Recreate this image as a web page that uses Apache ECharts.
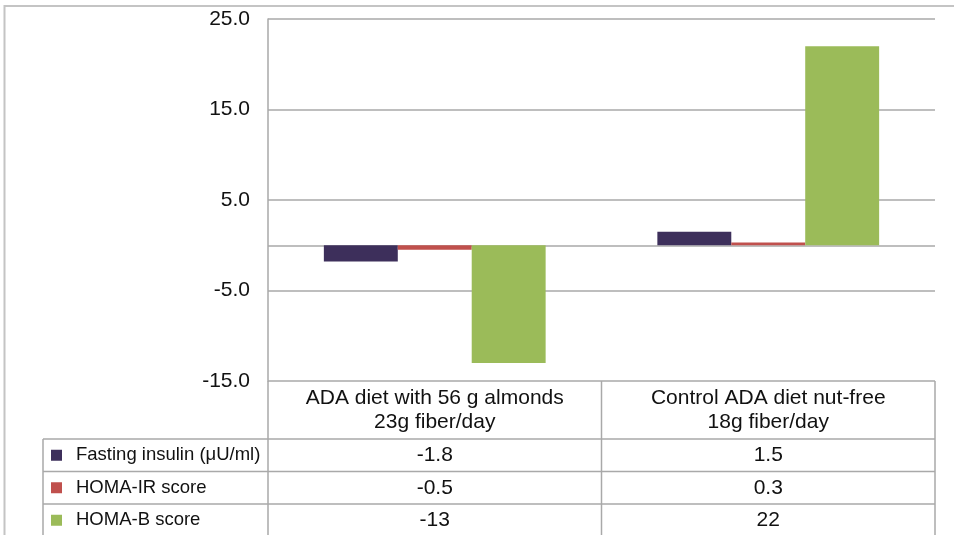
<!DOCTYPE html>
<html>
<head>
<meta charset="utf-8">
<script src="https://cdn.jsdelivr.net/npm/echarts@6/dist/echarts.min.js"></script>
<style>
  html, body { margin: 0; padding: 0; background: #fff; }
  #chart { width: 954px; height: 535px; }
</style>
</head>
<body>
<div id="chart"></div>
<script>
// Diet groups (x categories) and the three measured changes
const categories = ['ADA diet with 56 g almonds\n23g fiber/day', 'Control ADA diet nut-free\n18g fiber/day'];
const seriesNames = ['Fasting insulin (\u03bcU/ml)', 'HOMA-IR score', 'HOMA-B score'];
const fastingInsulin = [-1.8, 1.5];
const homaIR = [-0.5, 0.3];
const homaB = [-13, 22];
const seriesColors = ['#3d2f5b', '#c0504d', '#9bbb59'];

// Value axis range
const yMin = -15;
const yMax = 25;
const yStep = 10;

// Layout
const GRID = { left: 268, right: 19, top: 19, bottom: 154 };
const W = 954, H = 535;
const PLOT_BOTTOM = H - GRID.bottom;           // top edge of the data table
const PLOT_RIGHT = W - GRID.right;
const HEADER_BOTTOM = 439;
const ROW_H = 32.5;
const TABLE_LEFT = 43;
const LINE_COLOR = '#a9a9a9';
const TEXT_COLOR = '#111111';
const FONT = 'Liberation Sans, Arial, sans-serif';

const seriesValues = [fastingInsulin, homaIR, homaB];

const chart = echarts.init(document.getElementById('chart'), null, { renderer: 'canvas' });

const series = seriesNames.map((name, i) => {
  const s = {
    name: name,
    type: 'bar',
    data: seriesValues[i],
    barGap: '0%',
    barCategoryGap: '33.5%',
    itemStyle: { color: seriesColors[i] },
    silent: true
  };
  if (i === 0) {
    // zero baseline across the plot
    s.markLine = {
      silent: true,
      symbol: ['none', 'none'],
      label: { show: false },
      lineStyle: { color: LINE_COLOR, type: 'solid', width: 1.5 },
      data: [{ yAxis: 0 }],
      z: 1
    };
  }
  return s;
});

chart.setOption({
  animation: false,
  backgroundColor: '#ffffff',
  grid: Object.assign({ containLabel: false, outerBoundsMode: 'none' }, GRID),
  xAxis: {
    type: 'category',
    data: categories,
    position: 'bottom',
    axisLine: { show: false, onZero: false },
    axisTick: { show: false },
    splitLine: { show: false },
    axisLabel: {
      interval: 0,
      margin: 5,
      color: TEXT_COLOR,
      fontFamily: FONT,
      fontSize: 21,
      lineHeight: 24,
      align: 'center'
    }
  },
  yAxis: {
    type: 'value',
    min: yMin,
    max: yMax,
    interval: yStep,
    axisLine: { show: true, lineStyle: { color: LINE_COLOR, width: 1.5 } },
    axisTick: { show: false },
    splitLine: { show: true, lineStyle: { color: LINE_COLOR, width: 1.5 } },
    axisLabel: {
      margin: 18,
      color: TEXT_COLOR,
      fontFamily: FONT,
      fontSize: 21,
      formatter: v => v.toFixed(1)
    }
  },
  series: series
});

// Data table under the plot: header borders, legend keys, row labels and values
function buildTable() {
  const els = [];
  const line = (x1, y1, x2, y2) => els.push({
    type: 'line',
    silent: true,
    shape: { x1: x1, y1: y1, x2: x2, y2: y2 },
    style: { stroke: LINE_COLOR, lineWidth: 1.5 }
  });

  // outer frame of the figure
  els.push({
    type: 'rect',
    silent: true,
    shape: { x: 4.5, y: 6, width: W + 20, height: H + 20 },
    style: { fill: 'none', stroke: '#c4c4c4', lineWidth: 2 }
  });

  const centers = categories.map((c, i) => chart.convertToPixel({ xAxisIndex: 0 }, i));
  const mid = (centers[0] + centers[1]) / 2;

  // vertical borders
  line(GRID.left, PLOT_BOTTOM, GRID.left, H + 5);
  line(mid, PLOT_BOTTOM, mid, H + 5);
  line(PLOT_RIGHT, PLOT_BOTTOM, PLOT_RIGHT, H + 5);
  line(TABLE_LEFT, HEADER_BOTTOM, TABLE_LEFT, H + 5);

  // horizontal row borders
  for (let r = 0; r < seriesNames.length; r++) {
    const y = HEADER_BOTTOM + r * ROW_H;
    line(TABLE_LEFT, y, PLOT_RIGHT, y);
  }

  seriesNames.forEach((name, r) => {
    const cy = HEADER_BOTTOM + r * ROW_H + ROW_H / 2;
    els.push({
      type: 'rect',
      silent: true,
      shape: { x: 51, y: cy - 5.5, width: 11, height: 11 },
      style: { fill: seriesColors[r] }
    });
    els.push({
      type: 'text',
      silent: true,
      x: 76,
      y: cy,
      style: {
        text: name,
        fill: TEXT_COLOR,
        font: '18.5px ' + FONT,
        textAlign: 'left',
        textVerticalAlign: 'middle'
      }
    });
    seriesValues[r].forEach((v, c) => {
      els.push({
        type: 'text',
        silent: true,
        x: centers[c],
        y: cy,
        style: {
          text: String(v),
          fill: TEXT_COLOR,
          font: '21px ' + FONT,
          textAlign: 'center',
          textVerticalAlign: 'middle'
        }
      });
    });
  });

  chart.setOption({ graphic: { elements: els } });
}

buildTable();
</script>
</body>
</html>
